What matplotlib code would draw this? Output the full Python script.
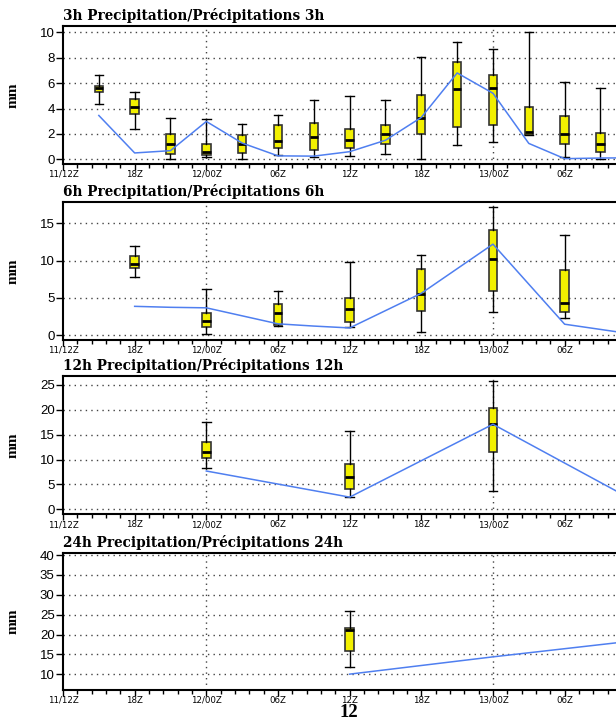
import matplotlib
matplotlib.use("Agg")
import matplotlib.pyplot as plt
from matplotlib.ticker import MultipleLocator

# hours after 11/12Z
tick_hours = [0, 6, 12, 18, 24, 30, 36, 42]
tick_labels = ["11/12Z", "18Z", "12/00Z", "06Z", "12Z", "18Z", "13/00Z", "06Z"]
day_lines = [12, 36]

# 3h accumulation
h3_pos = [3, 6, 9, 12, 15, 18, 21, 24, 27, 30, 33, 36, 39, 42, 45]
h3_lo = [4.38, 2.39, 0.0, 0.2, 0.05, 0.31, 0.18, 0.26, 0.42, 0.05, 1.1, 1.36, 1.89, 0.16, 0.0]
h3_q1 = [5.32, 3.57, 0.39, 0.31, 0.47, 0.91, 0.76, 0.87, 1.18, 1.97, 2.57, 2.72, 1.91, 1.18, 0.55]
h3_med = [5.59, 4.09, 1.2, 0.6, 1.23, 1.42, 1.76, 1.54, 1.99, 3.23, 5.54, 5.61, 2.15, 1.99, 1.2]
h3_q3 = [5.8, 4.77, 2.02, 1.18, 1.91, 2.7, 2.88, 2.39, 2.72, 5.04, 7.64, 6.66, 4.09, 3.41, 2.05]
h3_hi = [6.64, 5.32, 3.25, 3.15, 2.8, 3.49, 4.65, 4.96, 4.69, 8.06, 9.24, 8.66, 10.05, 6.09, 5.64]
h3_line_x = [3, 6, 9, 12, 15, 18, 21, 24, 27, 30, 33, 36, 39, 42, 45, 48]
h3_line_y = [3.45, 0.5, 0.68, 2.98, 1.28, 0.27, 0.25, 0.6, 1.5, 3.3, 6.8, 5.2, 1.25, 0.05, 0.1, 0.12]

# 6h accumulation
h6_pos = [6, 12, 18, 24, 30, 36, 42]
h6_lo = [7.83, 0.13, 1.25, 1.07, 0.44, 3.09, 2.24]
h6_q1 = [8.95, 1.07, 1.3, 1.79, 3.26, 5.9, 3.13]
h6_med = [9.53, 1.88, 2.91, 3.49, 5.5, 10.2, 4.25]
h6_q3 = [10.6, 2.91, 4.12, 5.0, 8.82, 14.1, 8.72]
h6_hi = [11.95, 6.22, 5.9, 9.76, 10.74, 17.2, 13.4]
h6_line_x = [6, 9, 12, 18, 21, 24, 30, 36, 42, 48]
h6_line_y = [3.85, 3.72, 3.65, 1.5, 1.2, 0.95, 5.6, 12.2, 1.45, 0.05]

# 12h accumulation
h12_pos = [12, 24, 36]
h12_lo = [8.25, 2.54, 3.62]
h12_q1 = [10.26, 4.08, 11.6]
h12_med = [11.47, 6.43, 17.2]
h12_q3 = [13.54, 9.18, 20.3]
h12_hi = [17.5, 15.75, 25.7]
h12_line_x = [12, 24, 36, 48]
h12_line_y = [7.7, 2.45, 17.1, 1.5]

# 24h accumulation
h24_pos = [24]
h24_lo = [11.83]
h24_q1 = [15.85]
h24_med = [21.13]
h24_q3 = [21.63]
h24_hi = [25.98]
h24_line_x = [24, 36, 48]
h24_line_y = [10.05, 14.4, 18.5]

panels = [
    ("3h", h3_pos, h3_lo, h3_q1, h3_med, h3_q3, h3_hi, h3_line_x, h3_line_y,
     (-0.37, 10.52), [0, 2, 4, 6, 8, 10]),
    ("6h", h6_pos, h6_lo, h6_q1, h6_med, h6_q3, h6_hi, h6_line_x, h6_line_y,
     (-0.67, 17.9), [0, 5, 10, 15]),
    ("12h", h12_pos, h12_lo, h12_q1, h12_med, h12_q3, h12_hi, h12_line_x, h12_line_y,
     (-1.0, 26.8), [0, 5, 10, 15, 20, 25]),
    ("24h", h24_pos, h24_lo, h24_q1, h24_med, h24_q3, h24_hi, h24_line_x, h24_line_y,
     (6.06, 40.6), [10, 15, 20, 25, 30, 35, 40]),
]

# axes boxes in pixels (top, bottom)
W, H = 616, 721
rows = [(25.7, 164), (201.7, 340), (376, 514.3), (552.7, 690)]
left_px = 63

fig = plt.figure(figsize=(W / 100, H / 100), dpi=100)

for (name, pos, lo, q1, med, q3, hi, lx, ly, ylim, yticks), (top, bot) in zip(panels, rows):
    ax = fig.add_axes([left_px / W, 1 - bot / H, (W - left_px) / W, (bot - top) / H])
    stats = []
    for i in range(len(pos)):
        stats.append({"med": med[i], "q1": q1[i], "q3": q3[i],
                      "whislo": lo[i], "whishi": hi[i], "fliers": []})
    ax.bxp(stats, positions=pos, widths=0.7, patch_artist=True, manage_ticks=False,
           boxprops=dict(facecolor="#f2f000", edgecolor="#333333", linewidth=1.2),
           medianprops=dict(color="black", linewidth=2),
           whiskerprops=dict(color="black", linewidth=1),
           capprops=dict(color="black", linewidth=1),
           capwidths=0.7, zorder=3)
    ax.plot(lx, ly, color="#4f7ff0", linewidth=1.1, zorder=4)

    ax.set_xlim(0, 46.3)
    ax.set_ylim(*ylim)
    ax.set_yticks(yticks)
    ax.set_xticks(tick_hours)
    ax.set_xticklabels(tick_labels, fontsize=6.2, family="DejaVu Sans")
    ax.xaxis.set_minor_locator(MultipleLocator(1.2))
    for lab in ax.get_yticklabels():
        lab.set_fontsize(9.5)
        lab.set_family("Liberation Sans")
    ax.tick_params(axis="y", length=5, width=1, pad=1)
    ax.tick_params(axis="x", which="major", length=4, width=1, pad=0.3)
    ax.tick_params(axis="x", which="minor", length=3, width=1)

    for y in yticks:
        ax.axhline(y, color="#444444", linewidth=1, linestyle=(0, (1, 3)), zorder=1)
    for x in day_lines:
        ax.axvline(x, color="#444444", linewidth=1, linestyle=(0, (1, 3)), zorder=1)

    ax.spines["right"].set_visible(False)
    for s in ["left", "bottom", "top"]:
        ax.spines[s].set_linewidth(1.5)

    ax.set_title(f"{name} Precipitation/Précipitations {name}", loc="left",
                 fontsize=9.8, fontweight="bold", family="DejaVu Serif", pad=4)
    fig.text(13 / W, 1 - (top + bot) / 2 / H, "mm", rotation=90, ha="center", va="center",
             fontsize=11, fontweight="bold", family="Liberation Serif")

fig.text(349 / W, 1 - 717 / H, "12", ha="center", va="baseline",
         fontsize=13.5, fontweight="bold", family="Liberation Serif")

fig.savefig("out.png", dpi=100)
